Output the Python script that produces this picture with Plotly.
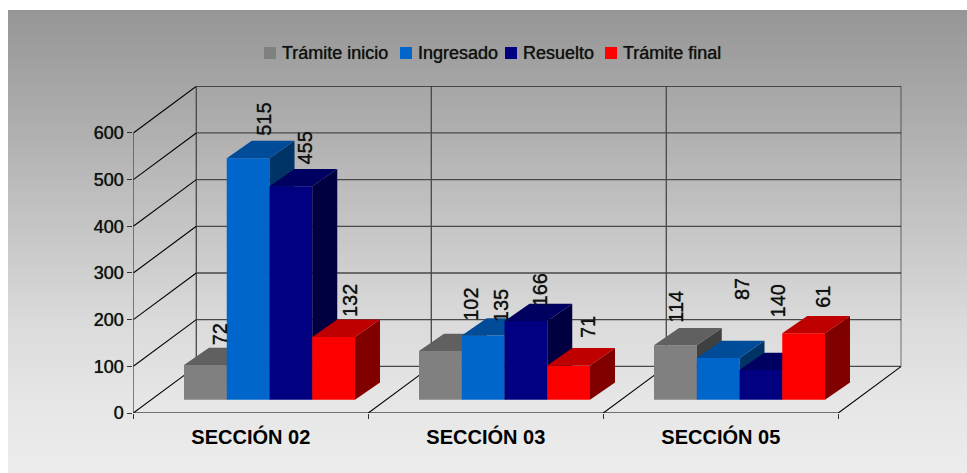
import numpy as np
import plotly.graph_objects as go

# ---------- data ----------
categories = ["SECCIÓN 02", "SECCIÓN 03", "SECCIÓN 05"]
series_names = ["Trámite inicio", "Ingresado", "Resuelto", "Trámite final"]
tramite_inicio = [72, 102, 114]
ingresado = [515, 135, 87]
resuelto = [455, 166, 61]
tramite_final = [132, 71, 140]
# the printed data labels (the original prints 140 / 61 swapped against the bars)
label_inicio = ["72", "102", "114"]
label_ingresado = ["515", "135", "87"]
label_resuelto = ["455", "166", "140"]
label_final = ["132", "71", "61"]
y_ticks = [0, 100, 200, 300, 400, 500, 600]

# ---------- styles ----------
W, H = 967, 473
front_colors = ["#808080", "#0066CC", "#000080", "#FF0000"]
top_colors = ["#606060", "#004C99", "#000060", "#BF0000"]
side_colors = ["#404040", "#003366", "#000040", "#800000"]
label_dx = [[15, 31, 1], [16, 18, 24], [14, 14, 17], [17, 20, 20]]
label_dy = [[22, 32, 25], [24, 15, 60], [24, 17, 55], [22, 29, 27]]
FONT = "Liberation Sans, Arial, sans-serif"
TXT = "#111111"
SHADOW = "0 0 0.7px #222222"
GRAD_PX = [10, 50, 130, 240, 320, 400, 473]
GRAD_GREY = [150, 158, 175, 200, 218, 230, 236]

PX_X0, PX_X1 = 133.3, 901.3
PX_Y0, PX_Y1 = 413.0, 86.3
UNIT_X = 235.0          # px per category
UNIT_Y = 280.0 / 600    # px per value
BACK_X = (PX_X1 - PX_X0) / UNIT_X - 3
BACK_Y = 700 - 600
BAR_START = 50.7 / UNIT_X
BAR_W = 42.75 / UNIT_X
BAR_DX = 25 / UNIT_X
BAR_DY = 17.3 / UNIT_Y
BAR_BASE = 13.3 / UNIT_Y
BAR_LIFT = 2.5
X_RANGE = [0, 3 + BACK_X]
Y_RANGE = [0, 700]
DOM_X = [PX_X0 / W, PX_X1 / W]
DOM_Y = [1 - PX_Y0 / H, 1 - PX_Y1 / H]

fig = go.Figure()

# background gradient
rows = np.arange(10, H + 1, 2.0)
grad = np.interp(rows, GRAD_PX, GRAD_GREY)
fig.add_trace(go.Heatmap(z=grad.reshape(-1, 1), x=[0, 1], y=(H - rows) / (H - 10),
                         colorscale=[[0, "rgb(150,150,150)"], [1, "rgb(236,236,236)"]],
                         zmin=150, zmax=236, showscale=False,
                         hoverinfo="skip", xaxis="x", yaxis="y"))


def lines(xs, ys, color, width=1):
    fig.add_trace(go.Scatter(x=xs, y=ys, mode="lines", line=dict(color=color, width=width),
                             showlegend=False, hoverinfo="skip", cliponaxis=False,
                             xaxis="x2", yaxis="y2"))


# walls: grey lines
gx, gy = [], []
for t in y_ticks:
    if t == 600:
        continue
    gx += [BACK_X, 3 + BACK_X, None]
    gy += [t + BACK_Y, t + BACK_Y, None]
for i in range(3):
    gx += [i + BACK_X, i + BACK_X, None]
    gy += [BACK_Y, 600 + BACK_Y, None]
gx += [0, 0, None, 0, 3]
gy += [0, 600, None, 0, 0]
lines(gx, gy, "#484848", 1.3)

# diagonals and outer wall edge: black lines
dx, dy = [], []
for t in y_ticks:
    dx += [0, BACK_X, None]
    dy += [t, t + BACK_Y, None]
for i in range(1, 4):
    dx += [i, i + BACK_X, None]
    dy += [0, BACK_Y, None]
dx += [BACK_X, 3 + BACK_X, 3 + BACK_X]
dy += [600 + BACK_Y, 600 + BACK_Y, BACK_Y]
lines(dx, dy, "#000000", 1.1)

# bars, one overlay per series so that later series paint over earlier ones
series = [tramite_inicio, ingresado, resuelto, tramite_final]
labels = [label_inicio, label_ingresado, label_resuelto, label_final]
annotations = []
for j, vals in enumerate(series):
    xa, ya = f"x{j + 3}", f"y{j + 3}"
    lefts = [i + BAR_START + j * BAR_W for i in range(len(categories))]
    fig.add_trace(go.Bar(x=[l + BAR_W / 2 for l in lefts], y=[v + BAR_LIFT for v in vals],
                         base=BAR_BASE, width=BAR_W, name=series_names[j],
                         marker=dict(color=front_colors[j], line=dict(width=0)),
                         showlegend=False, xaxis=xa, yaxis=ya))
    sx, sy, tx, ty = [], [], [], []
    for l, v in zip(lefts, vals):
        top = BAR_BASE + v + BAR_LIFT
        r = l + BAR_W
        sx += [r, r + BAR_DX, r + BAR_DX, r, r, None]
        sy += [BAR_BASE, BAR_BASE + BAR_DY, top + BAR_DY, top, BAR_BASE, None]
        tx += [l, r, r + BAR_DX, l + BAR_DX, l, None]
        ty += [top, top, top + BAR_DY, top + BAR_DY, top, None]
    for px, py, c in ((sx, sy, side_colors[j]), (tx, ty, top_colors[j])):
        fig.add_trace(go.Scatter(x=px, y=py, mode="lines", fill="toself", fillcolor=c,
                                 line=dict(width=0), showlegend=False, hoverinfo="skip",
                                 xaxis=xa, yaxis=ya))
    for i, (l, v) in enumerate(zip(lefts, vals)):
        annotations.append(dict(
            x=l + BAR_W / 2, y=BAR_BASE + v + BAR_LIFT, xref="x2", yref="y2",
            text=labels[j][i], textangle=-90, showarrow=False,
            xanchor="center", yanchor="bottom",
            xshift=label_dx[j][i], yshift=label_dy[j][i] - 2,
            font=dict(family=FONT, size=20, color=TXT, shadow=SHADOW), borderpad=0, borderwidth=0))

# legend, laid out like the original
swatch_x = [264, 400, 505, 605]
shapes = []
for name, sx0, c in zip(series_names, swatch_x, front_colors):
    shapes.append(dict(type="rect", xref="paper", yref="paper", layer="above",
                       x0=sx0 / W, x1=(sx0 + 12) / W, y0=1 - 59 / H, y1=1 - 47 / H,
                       fillcolor=c, line=dict(width=0)))
    annotations.append(dict(x=(sx0 + 16.5) / W, y=1 - 52.5 / H, xref="paper", yref="paper",
                            text=name, showarrow=False, xanchor="left", yanchor="middle",
                            font=dict(family=FONT, size=18, color=TXT, shadow=SHADOW), borderpad=0))

layout_axes = {
    "xaxis": dict(domain=[8 / W, 1], range=[0, 1], visible=False, fixedrange=True),
    "yaxis": dict(domain=[0, 1 - 10 / H], range=[0, 1], visible=False, fixedrange=True),
    "xaxis2": dict(
        domain=DOM_X, range=X_RANGE, anchor="y2", showgrid=False, zeroline=False, showline=False,
        automargin=False,
        tickmode="array", tickvals=[i + 0.5 for i in range(3)], ticktext=categories,
        ticks="", ticklabelstandoff=10,
        tickfont=dict(family=FONT, size=20, color="#000000", weight="bold"),
        minor=dict(tickmode="array", tickvals=[0, 1, 2, 3], ticks="outside", ticklen=5,
                   tickcolor="#333333", tickwidth=1.2, showgrid=False),
    ),
    "yaxis2": dict(
        domain=DOM_Y, range=Y_RANGE, anchor="x2", showgrid=False, zeroline=False, showline=False,
        automargin=False,
        tickmode="array", tickvals=y_ticks, ticktext=[str(t) for t in y_ticks],
        ticks="outside", ticklen=5, tickcolor="#333333", tickwidth=1.2,
        tickfont=dict(family=FONT, size=18, color=TXT, shadow=SHADOW),
    ),
}
for j in range(4):
    layout_axes[f"xaxis{j + 3}"] = dict(domain=DOM_X, range=X_RANGE, overlaying="x2", anchor=f"y{j + 3}",
                                        visible=False, fixedrange=True)
    layout_axes[f"yaxis{j + 3}"] = dict(domain=DOM_Y, range=Y_RANGE, overlaying="y2", anchor=f"x{j + 3}",
                                        visible=False, fixedrange=True)

fig.update_layout(
    width=W, height=H, margin=dict(l=0, r=0, t=0, b=0, pad=0, autoexpand=False),
    paper_bgcolor="#FFFFFF", plot_bgcolor="rgba(0,0,0,0)", showlegend=False,
    barmode="overlay", annotations=annotations, shapes=shapes,
    font=dict(family=FONT), **layout_axes,
)
fig.write_html("out.html", config=dict(displayModeBar=False),
               post_script="document.body.style.margin='0';document.body.style.overflow='hidden';")
